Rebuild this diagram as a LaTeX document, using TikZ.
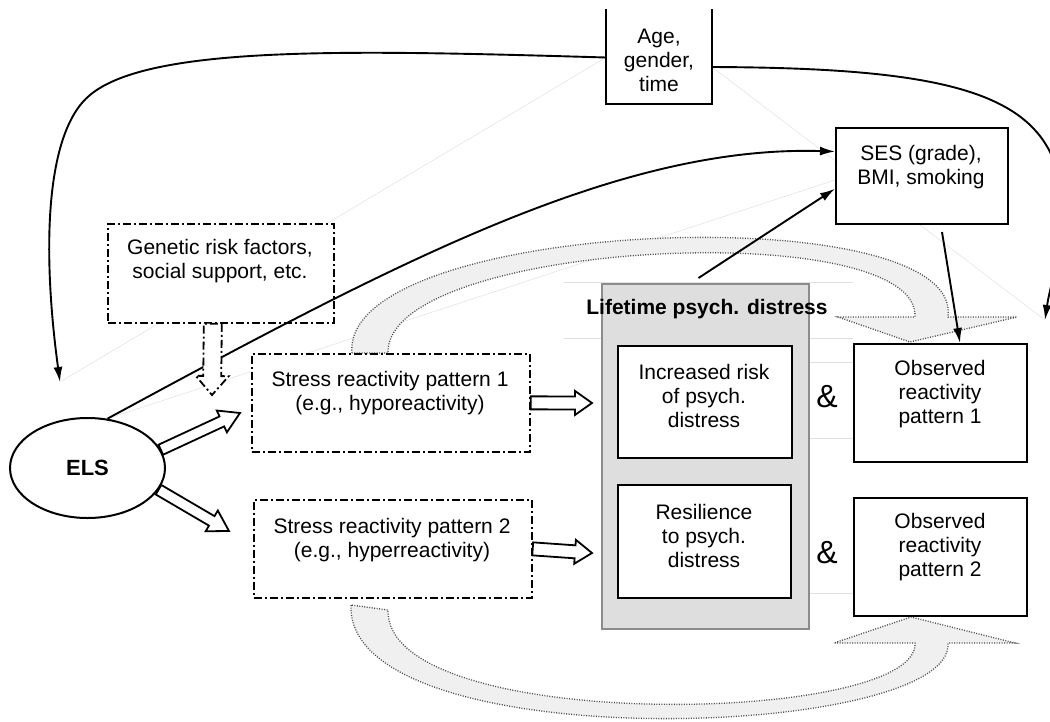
\documentclass[tikz,border=0pt]{standalone}
\usepackage{fontspec}
\setmainfont{Liberation Sans}
\usetikzlibrary{arrows.meta,calc,shapes.geometric}
\tikzset{
  box/.style={draw=black, line width=2pt, fill=white, inner sep=0pt, anchor=north west},
  dbox/.style={draw=black, line width=1.7pt, fill=white, inner sep=0pt, anchor=north west,
               dash pattern=on 8pt off 3pt on 2pt off 3pt},
  txt/.style={align=center, font=\fontsize{21}{24}\selectfont, inner sep=0pt},
  amp/.style={font=\fontsize{32}{34}\selectfont, inner sep=0pt},
  arr/.style={line width=1.9pt, -{Latex[length=15pt,width=9pt]}},
  fat/.style={draw=black, line width=1.8pt, fill=white, line join=miter},
  fatdash/.style={dash pattern=on 8pt off 3pt on 2pt off 3pt},
  ghost/.style={draw=black!12, line width=0.5pt},
  bigarrow/.style={draw=black!70, fill=black!6, line width=1.3pt, dash pattern=on 1pt off 1.5pt},
}
\newcommand\fatarr[6][]{%
  \coordinate (fah) at ($(#3)!#6!(#2)$);
  \draw[fat,#1] ($(#2)!#4!90:(#3)$) -- ($(fah)!#4!90:(#3)$) -- ($(fah)!#5!90:(#3)$) -- (#3)
     -- ($(fah)!#5!-90:(#3)$) -- ($(fah)!#4!-90:(#3)$) -- ($(#2)!#4!-90:(#3)$) -- cycle;
}
\begin{document}
\begin{tikzpicture}[x=1pt,y=-1pt]
\useasboundingbox (0,0) rectangle (1050,721);

% ---------- ELS ----------
\node[draw, ellipse, line width=2pt, fill=white, minimum width=155pt, minimum height=100pt,
      inner sep=0pt, font=\fontsize{22}{24}\selectfont\bfseries] (els) at (87.5,468) {ELS};

\coordinate (elsin) at (60,382);
\coordinate (rtip) at (1045,320);

% ghost (faint) straight lines
\path (606,57.5) coordinate (agel) (712,67) coordinate (ager);
\draw[ghost] (agel) -- (elsin);
\draw[ghost] (ager) -- (rtip);
\draw[ghost] (els.68) -- (835,180);
\draw[ghost] (564,282) -- (853,282);
\draw[ghost] (564,338) -- (853,338);
\draw[ghost] (808,362) -- (853,362);
\draw[ghost] (808,438) -- (853,438);
\draw[ghost] (808,593) -- (853,593);

% big gray curved arrows
\draw[bigarrow] (352,353) .. controls (340,218) and (965,195) .. (948,317) -- (1017,317) -- (910,342)
   -- (838,317) -- (915,317) .. controls (920,215) and (385,240) .. (388,353) -- cycle;
\draw[bigarrow] (351,605) .. controls (345,760) and (955,740) .. (948,643) -- (1015,643) -- (911,617)
   -- (834,643) -- (915,643) .. controls (920,725) and (385,735) .. (388,610) -- cycle;

% lifetime gray box
\node[draw=black!45, fill=black!13, line width=2pt, minimum width=207pt, minimum height=345pt,
      inner sep=0pt, anchor=north west] (gray) at (601,283) {};
\node[font=\fontsize{21}{24}\selectfont\bfseries, inner sep=0pt] (ltl) at (707,309.5) {Lifetime psych. distress};

% boxes
\node[fill=white, inner sep=0pt, anchor=north west, minimum width=106pt, minimum height=95pt] (age) at (606,9) {};
\draw[line width=2pt] (age.north west) -- (age.south west) -- (age.south east) -- (age.north east);
\node[box, minimum width=172pt, minimum height=96pt] (ses) at (835,127) {};
\node[dbox, minimum width=226pt, minimum height=99pt] (gen) at (107,223) {};
\node[dbox, minimum width=278pt, minimum height=98pt] (s1) at (251,353) {};
\node[dbox, minimum width=278pt, minimum height=98pt] (s2) at (253,499) {};
\node[box, minimum width=174pt, minimum height=112pt] (b1) at (617,345) {};
\node[box, minimum width=173pt, minimum height=113pt] (b2) at (617,484) {};
\node[box, minimum width=173pt, minimum height=118pt] (o1) at (853,343) {};
\node[box, minimum width=173pt, minimum height=118pt] (o2) at (853,497) {};

% texts
\node[txt] (aget) at (659,60) {Age,\\gender,\\time};
\node[txt] (sest) at (921,167.5) {SES (grade),\\BMI, smoking};
\node[txt] (gent) at (220,261.5) {Genetic risk factors,\\social support, etc.};
\node[txt] (s1t) at (390,393) {Stress reactivity pattern 1\\(e.g., hyporeactivity)};
\node[txt] (s2t) at (392,540) {Stress reactivity pattern 2\\(e.g., hyperreactivity)};
\node[txt] (b1t) at (704,396) {Increased risk\\of psych.\\distress};
\node[txt] (b2t) at (704,535.5) {Resilience\\to psych.\\distress};
\node[txt] (o1t) at (940,394) {Observed\\reactivity\\pattern 1};
\node[txt] (o2t) at (940,547.5) {Observed\\reactivity\\pattern 2};
\node[amp] (amp1) at (827,397) {\&};
\node[amp] (amp2) at (827,553) {\&};

% black connectors
\draw[arr] (agel) .. controls (350,50) and (150,45) .. (90,95) .. controls (45,132) and (42,250) .. (elsin);
\draw[arr] (ager) .. controls (960,68) and (1055,95) .. (1062,200) .. controls (1064,245) and (1050,285) .. (rtip);
\draw[arr] (els.68) .. controls (400,260) and (620,145) .. ($(ses.north west)!0.25!(ses.south west)$);
\draw[arr] ([xshift=-7pt,yshift=5pt]gray.north) -- ($(ses.north west)!0.63!(ses.south west)$);
\draw[arr] ([xshift=20pt,yshift=-7pt]ses.south) -- ([xshift=19.5pt]o1.north);

% hollow fat arrows
\coordinate (t1) at (240,413);
\coordinate (t2) at (229,531);
\coordinate (t3) at (592,403);
\coordinate (t4) at (592,553);
\coordinate (gs) at ([xshift=-8pt]gen.south);
\coordinate (gt) at (212,395);
\fatarr{els.14}{t1}{5.5pt}{12pt}{20pt}
\fatarr{els.-17}{t2}{5.5pt}{12pt}{20pt}
\fatarr{s1.east}{t3}{6.5pt}{12pt}{17pt}
\fatarr{s2.east}{t4}{6.5pt}{12pt}{17pt}
\fatarr[fatdash]{gs}{gt}{9pt}{16.5pt}{19pt}
\end{tikzpicture}
\end{document}
